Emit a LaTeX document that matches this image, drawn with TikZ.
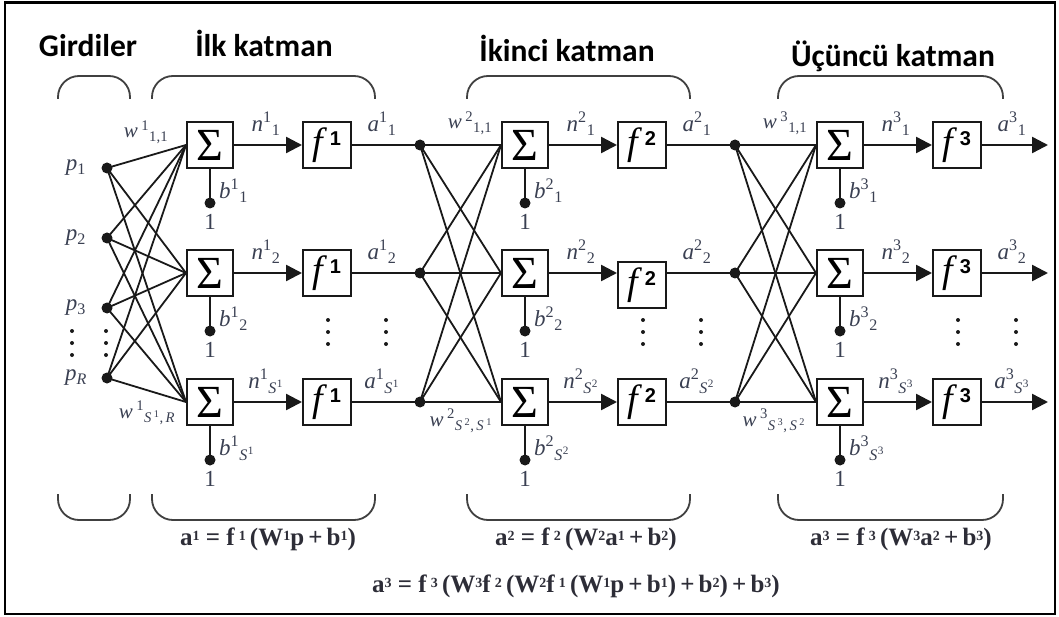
\documentclass[tikz,border=0pt]{standalone}
\usepackage{fontspec}
\setmainfont{Liberation Serif}
\newfontfamily\titlefont{Carlito}
\newfontfamily\supfont{Liberation Sans}
\usetikzlibrary{arrows.meta}
\definecolor{labcol}{RGB}{58,64,82}
\definecolor{formcol}{RGB}{45,45,55}
\definecolor{linecol}{RGB}{25,25,25}
\newcommand\idx[2]{\ifnum#2=3 \textit{S}\kern0.5pt\textsuperscript{#1}\else #2\fi}
\newcommand\varlab[3]{\textit{#1}\textsuperscript{#2}\textsubscript{\idx{#2}{#3}}}
\newcommand\fsup[1]{\textit{f}\kern2pt\raisebox{9pt}{\supfont\bfseries\fontsize{20}{20}\selectfont #1}}
\newcommand\fs[1]{\raisebox{0.35ex}{\fontsize{14}{14}\selectfont #1}}
\begin{document}
\begin{tikzpicture}[x=1pt,y=-1pt,
  sumbox/.style={draw=linecol, line width=2pt, minimum width=46pt, minimum height=46pt, inner sep=0pt, font=\fontsize{46}{46}\selectfont},
  funbox/.style={draw=linecol, line width=2pt, minimum width=48pt, minimum height=46pt, inner sep=0pt, font=\fontsize{38}{38}\selectfont},
  dotnode/.style={circle, fill=linecol, inner sep=0pt, minimum size=11pt},
  smalldot/.style={circle, fill=linecol, inner sep=0pt, minimum size=4pt},
  lab/.style={text=labcol, font=\fontsize{23}{23}\selectfont, inner sep=0pt},
  wlab/.style={text=labcol, font=\fontsize{21}{21}\selectfont, inner sep=0pt},
  wire/.style={draw=linecol, line width=1.8pt},
  aline/.style={draw=linecol, line width=2pt},
  sig/.style={draw=linecol, line width=2.4pt, -{Triangle[length=16pt,width=16pt]}},
  bracket/.style={draw=black!75, line width=1.8pt, rounded corners=21pt},
  title/.style={font=\titlefont\bfseries\fontsize{31.5}{31.5}\selectfont, anchor=base, inner sep=0pt},
  form/.style={text=formcol, font=\bfseries\fontsize{25}{25}\selectfont, anchor=base, inner sep=0pt}]
\useasboundingbox (0,0) rectangle (1059,617);
\draw[line width=2.5pt] (5,2.5) rectangle (1055,614);

% titles
\node[title] (tg) at (88,57) {Girdiler};
\node[title] (t1) at (264,57) {İlk katman};
\node[title] (t2) at (567,62) {İkinci katman};
\node[title] (t3) at (893,67) {Üçüncü katman};

% brackets
\foreach \a/\b in {58/130,152/375,467/690,778/1003}{
  \draw[bracket] (\a,99) -- (\a,76) -- (\b,76) -- (\b,99);
  \draw[bracket] (\a,494) -- (\a,520) -- (\b,520) -- (\b,494);
}

% inputs
\foreach \i/\y/\t in {1/168/1,2/238/2,3/308/3,4/378/\textit{R}}{
  \node[dotnode] (P\i) at (107,\y) {};
  \node[lab] (pl\i) at (76,\y) {\textit{p}\textsubscript{\t}};
}
\foreach \k in {0,1,2}{
  \node[smalldot] (vd\k) at (72,331+12*\k) {};
  \node[smalldot] (vp\k) at (106,331+12*\k) {};
}

% layers
\foreach \L in {1,2,3}{
  \pgfmathsetmacro\dx{315*(\L-1)}
  \foreach \r/\y in {1/145,2/273,3/402}{
    \pgfmathsetmacro\fy{\y+12*(\L==2)*(\r==2)}
    \node[sumbox] (S\L r\r) at (210+\dx,\y) {Σ};
    \node[funbox] (F\L r\r) at (327+\dx,\fy) {\fsup{\L}};
    \draw[sig] (S\L r\r.east) -- (S\L r\r.east -| F\L r\r.west);
    \node[dotnode] (B\L r\r) at (210+\dx,\y+58) {};
    \draw[aline] (S\L r\r.south) -- (B\L r\r.center);
    \node[lab] (one\L r\r) at (210+\dx,\y+77) {1};
    \node[lab] (nl\L r\r) at (266+\dx,\y-21) {\varlab{n}{\L}{\r}};
    \node[lab] (al\L r\r) at (382+\dx,\y-21) {\varlab{a}{\L}{\r}};
    \node[lab, anchor=west] (bl\L r\r) at (219+\dx,\y+46) {\varlab{b}{\L}{\r}};
  }
  \foreach \k in {0,1,2}{
    \node[smalldot] (fd\L\k) at (328+\dx,320+12*\k) {};
    \node[smalldot] (ad\L\k) at (386+\dx,320+12*\k) {};
  }
}

% layer outputs
\foreach \r/\y in {1/145,2/273,3/402}{
  \node[dotnode] (D1r\r) at (420,\y) {};
  \node[dotnode] (D2r\r) at (735,\y) {};
  \coordinate (O\r) at (1048,\y);
  \draw[aline] (D1r\r -| F1r\r.east) -- (D1r\r.center);
  \draw[aline] (D2r\r -| F2r\r.east) -- (D2r\r.center);
  \draw[sig] (O\r -| F3r\r.east) -- (O\r);
}

% weights
\foreach \i in {1,2,3,4}{
  \foreach \r in {1,2,3}{
    \draw[wire] (P\i.center) -- (S1r\r.west);
  }
}
\foreach \i in {1,2,3}{
  \foreach \r in {1,2,3}{
    \draw[wire] (D1r\i.center) -- (S2r\r.west);
    \draw[wire] (D2r\i.center) -- (S3r\r.west);
  }
}

% weight labels
\node[wlab] (w1a) at (146,132) {\textit{w}\,\textsuperscript{1}\textsubscript{1,1}};
\node[wlab] (w1b) at (147,413) {\textit{w}\,\textsuperscript{1}\textsubscript{\textit{S}\,\textsuperscript{1},\,\textit{R}}};
\node[wlab] (w2a) at (470,123) {\textit{w}\,\textsuperscript{2}\textsubscript{1,1}};
\node[wlab] (w2b) at (461,421) {\textit{w}\,\textsuperscript{2}\textsubscript{\textit{S}\,\textsuperscript{2},\,\textit{S}\,\textsuperscript{1}}};
\node[wlab] (w3a) at (785,123) {\textit{w}\,\textsuperscript{3}\textsubscript{1,1}};
\node[wlab] (w3b) at (774,421) {\textit{w}\,\textsuperscript{3}\textsubscript{\textit{S}\,\textsuperscript{3},\,\textit{S}\,\textsuperscript{2}}};

% formulas
\node[form] (e1) at (268,545) {a\fs{1} = f\,\fs{1}\,(W\fs{1}p\,+\,b\fs{1})};
\node[form] (e2) at (586,545) {a\fs{2} = f\,\fs{2}\,(W\fs{2}a\fs{1}\,+\,b\fs{2})};
\node[form] (e3) at (901,545) {a\fs{3} = f\,\fs{3}\,(W\fs{3}a\fs{2}\,+\,b\fs{3})};
\node[form] (e4) at (576,592) {a\fs{3} = f\,\fs{3}\,(W\fs{3}f\,\fs{2}\,(W\fs{2}f\,\fs{1}\,(W\fs{1}p\,+\,b\fs{1})\,+\,b\fs{2})\,+\,b\fs{3})};
\end{tikzpicture}
\end{document}
